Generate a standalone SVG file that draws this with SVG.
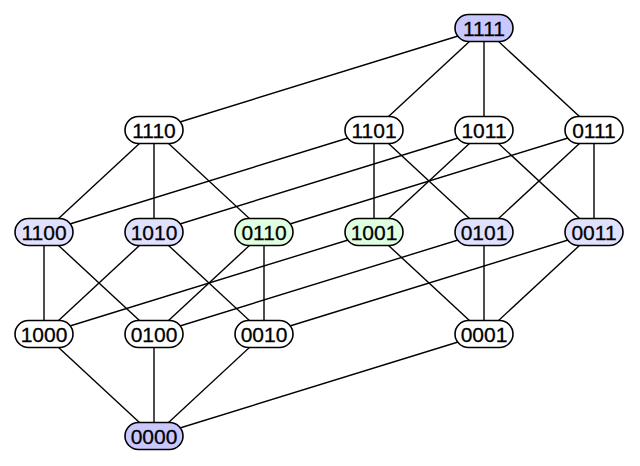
<svg xmlns="http://www.w3.org/2000/svg" width="640" height="466" viewBox="0 0 640 466">
<style>
.e{stroke:#000;stroke-width:1.4;fill:none}
.n rect{stroke:#000;stroke-width:1.6;fill:#fff}
.n text{font-family:"Liberation Sans",Arial,sans-serif;font-size:21px;text-anchor:middle;fill:#000;stroke:#000;stroke-width:0.3}
.b1 rect{fill:#c8c8ff}
.b2 rect{fill:#e0e0ff}
.g rect{fill:#e0ffe0}
</style>
<rect width="640" height="466" fill="#fff"/>
<g id="edges" class="e">
<line x1="484" y1="28" x2="154" y2="130"/>
<line x1="484" y1="28" x2="374" y2="130"/>
<line x1="484" y1="28" x2="484" y2="130"/>
<line x1="484" y1="28" x2="594" y2="130"/>
<line x1="154" y1="130" x2="44" y2="232"/>
<line x1="154" y1="130" x2="154" y2="232"/>
<line x1="154" y1="130" x2="264" y2="232"/>
<line x1="374" y1="130" x2="44" y2="232"/>
<line x1="374" y1="130" x2="374" y2="232"/>
<line x1="374" y1="130" x2="484" y2="232"/>
<line x1="484" y1="130" x2="154" y2="232"/>
<line x1="484" y1="130" x2="374" y2="232"/>
<line x1="484" y1="130" x2="594" y2="232"/>
<line x1="594" y1="130" x2="264" y2="232"/>
<line x1="594" y1="130" x2="484" y2="232"/>
<line x1="594" y1="130" x2="594" y2="232"/>
<line x1="44" y1="232" x2="44" y2="334"/>
<line x1="44" y1="232" x2="154" y2="334"/>
<line x1="154" y1="232" x2="44" y2="334"/>
<line x1="154" y1="232" x2="264" y2="334"/>
<line x1="264" y1="232" x2="154" y2="334"/>
<line x1="264" y1="232" x2="264" y2="334"/>
<line x1="374" y1="232" x2="44" y2="334"/>
<line x1="374" y1="232" x2="484" y2="334"/>
<line x1="484" y1="232" x2="154" y2="334"/>
<line x1="484" y1="232" x2="484" y2="334"/>
<line x1="594" y1="232" x2="264" y2="334"/>
<line x1="594" y1="232" x2="484" y2="334"/>
<line x1="44" y1="334" x2="154" y2="436"/>
<line x1="154" y1="334" x2="154" y2="436"/>
<line x1="264" y1="334" x2="154" y2="436"/>
<line x1="484" y1="334" x2="154" y2="436"/>
</g>
<g id="n1111" class="n b1"><rect x="455" y="14.5" width="58" height="27" rx="13.5"/><text x="484" y="36">1111</text></g>
<g id="n1110" class="n"><rect x="125" y="116.5" width="58" height="27" rx="13.5"/><text x="154" y="138">1110</text></g>
<g id="n1101" class="n"><rect x="345" y="116.5" width="58" height="27" rx="13.5"/><text x="374" y="138">1101</text></g>
<g id="n1011" class="n"><rect x="455" y="116.5" width="58" height="27" rx="13.5"/><text x="484" y="138">1011</text></g>
<g id="n0111" class="n"><rect x="565" y="116.5" width="58" height="27" rx="13.5"/><text x="594" y="138">0111</text></g>
<g id="n1100" class="n b2"><rect x="15" y="218.5" width="58" height="27" rx="13.5"/><text x="44" y="240">1100</text></g>
<g id="n1010" class="n b2"><rect x="125" y="218.5" width="58" height="27" rx="13.5"/><text x="154" y="240">1010</text></g>
<g id="n0110" class="n g"><rect x="235" y="218.5" width="58" height="27" rx="13.5"/><text x="264" y="240">0110</text></g>
<g id="n1001" class="n g"><rect x="345" y="218.5" width="58" height="27" rx="13.5"/><text x="374" y="240">1001</text></g>
<g id="n0101" class="n b2"><rect x="455" y="218.5" width="58" height="27" rx="13.5"/><text x="484" y="240">0101</text></g>
<g id="n0011" class="n b2"><rect x="565" y="218.5" width="58" height="27" rx="13.5"/><text x="594" y="240">0011</text></g>
<g id="n1000" class="n"><rect x="15" y="320.5" width="58" height="27" rx="13.5"/><text x="44" y="342">1000</text></g>
<g id="n0100" class="n"><rect x="125" y="320.5" width="58" height="27" rx="13.5"/><text x="154" y="342">0100</text></g>
<g id="n0010" class="n"><rect x="235" y="320.5" width="58" height="27" rx="13.5"/><text x="264" y="342">0010</text></g>
<g id="n0001" class="n"><rect x="455" y="320.5" width="58" height="27" rx="13.5"/><text x="484" y="342">0001</text></g>
<g id="n0000" class="n b1"><rect x="125" y="422.5" width="58" height="27" rx="13.5"/><text x="154" y="444">0000</text></g>
</svg>
